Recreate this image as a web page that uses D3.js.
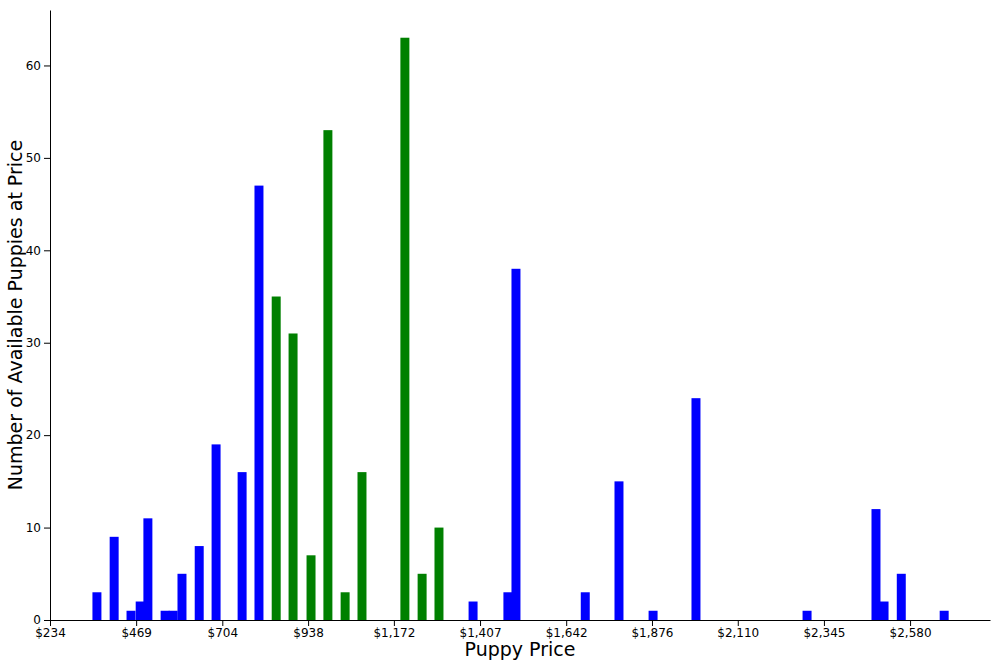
<!DOCTYPE html>
<html><head><meta charset="utf-8">
<script src="https://cdn.jsdelivr.net/npm/d3@7"></script>
<style>body{margin:0;background:#fff}svg{font-family:"DejaVu Sans",sans-serif}</style>
</head><body><svg id="c" width="1000" height="666"></svg>
<script>
const prices = [362,409,455,480,501,548,570,594,641,687,758,804,851,897,946,992,1039,1085,1202,1249,1295,1388,1483,1505,1694,1786,1879,1996,2299,2487,2509,2556,2673];
const counts = [3,9,1,2,11,1,1,5,8,19,16,47,35,31,7,53,3,16,63,5,10,2,3,38,3,15,1,24,1,12,2,5,1];
const groups = ["b","b","b","b","b","b","b","b","b","b","b","b","g","g","g","g","g","g","g","g","g","b","b","b","b","b","b","b","b","b","b","b","b"];
const tickValues = [234,469,704,938,1172,1407,1642,1876,2110,2345,2580];
const tickLabels = ["$234","$469","$704","$938","$1,172","$1,407","$1,642","$1,876","$2,110","$2,345","$2,580"];
const binWidth = 24.5;

const svg = d3.select("#c");
const L=50,R=990,T=10,B=620;
const x = d3.scaleLinear().domain([234,2798]).range([L,R]);
const y = d3.scaleLinear().domain([0,66]).range([B,T]);
const col = {b:"#0000ff", g:"#008000"};

svg.selectAll("rect.bar").data(prices).enter().append("rect")
  .attr("x",(d)=>x(d-binWidth/2)).attr("width",x(binWidth)-x(0))
  .attr("y",(d,i)=>y(counts[i])).attr("height",(d,i)=>B-y(counts[i]))
  .attr("fill",(d,i)=>col[groups[i]]);

const xa = svg.append("g").attr("transform",`translate(0,${B})`)
  .call(d3.axisBottom(x).tickValues(tickValues).tickFormat((d,i)=>tickLabels[i]).tickSizeOuter(0).tickPadding(2));
const ya = svg.append("g").attr("transform",`translate(${L},0)`)
  .call(d3.axisLeft(y).tickValues([0,10,20,30,40,50,60]).tickSizeOuter(0));
[xa,ya].forEach(a=>{a.selectAll("text").attr("font-size",12).attr("fill","#000").attr("font-family","DejaVu Sans");a.selectAll("line,path").attr("stroke","#000");});

svg.append("text").attr("x",(L+R)/2).attr("y",656).attr("text-anchor","middle")
  .attr("font-size",19).text("Puppy Price");
svg.append("text").attr("transform",`translate(22,${(T+B)/2}) rotate(-90)`).attr("text-anchor","middle")
  .attr("font-size",19).text("Number of Available Puppies at Price");
</script></body></html>
